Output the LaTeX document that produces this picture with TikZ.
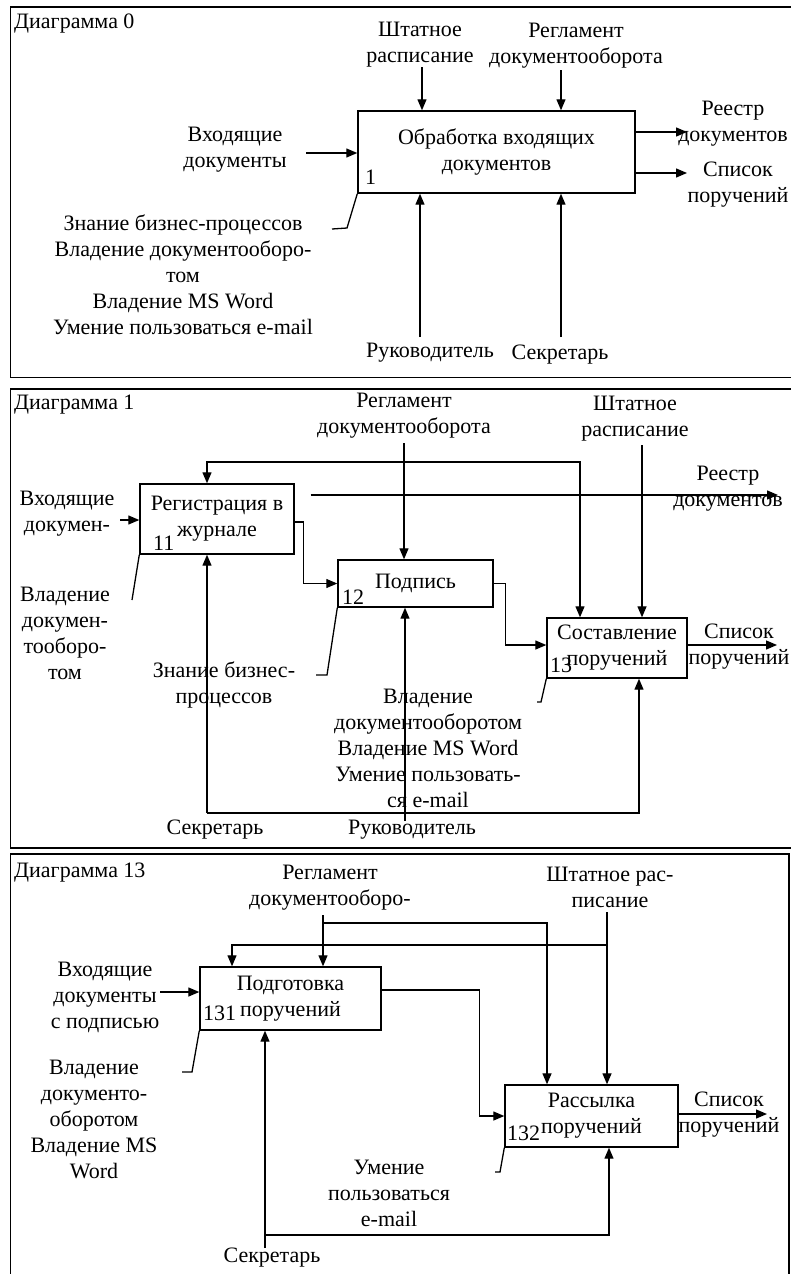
\documentclass[tikz,border=0pt]{standalone}
\usepackage{fontspec}
\setmainfont{Liberation Serif}
\usetikzlibrary{arrows.meta}
\begin{document}
\begin{tikzpicture}[x=1pt,y=-1pt,
  txt/.style={align=center, inner sep=0pt, font=\fontsize{22}{26}\selectfont},
  box/.style={draw, line width=1.4pt, inner sep=0pt, align=center, font=\fontsize{22}{26}\selectfont},
  num/.style={inner sep=0pt, anchor=west, font=\fontsize{22}{26}\selectfont},
  arr/.style={line width=1.3pt, -{Triangle[length=11pt,width=9pt]}},
  ln/.style={line width=1.3pt},
  frame/.style={line width=1.5pt}
]
\useasboundingbox (0,0) rectangle (790,1274);
% frames
\draw[frame] (791,7) -- (10.5,7) -- (10.5,377.5) -- (791,377.5);
\draw[frame] (791,389) -- (10.5,389) -- (10.5,848) -- (791,848);
\draw[frame] (10.5,1276) -- (10.5,854) -- (789,854) -- (789,1276);

% ================= Panel 1 =================
\node[txt, anchor=west] (t0) at (14,24) {Диаграмма 0};
\node[box, minimum width=277pt, minimum height=82pt] (A0) at (496.5,152) {Обработка входящих\\документов};
\node[num] (n1) at (365,177) {1};
\node[txt] (l1sht) at (420,45) {Штатное\\расписание};
\node[txt] (l1reg) at (576,46) {Регламент\\документооборота};
\node[txt] (l1in) at (235,150) {Входящие\\документы};
\node[txt] (l1call) at (183,275) {Знание бизнес-процессов\\Владение документооборо-\\том\\Владение MS Word\\Умение пользоваться e-mail};
\node[txt] (l1o1) at (733,123.5) {Реестр\\документов};
\node[txt] (l1o2) at (738,184.5) {Список\\поручений};
\node[txt] (l1ruk) at (430,353) {Руководитель};
\node[txt] (l1sec) at (560,355) {Секретарь};

\coordinate (p1in) at (306,153);
\coordinate (p1c1) at (422,67);
\coordinate (p1c2) at (561,70);
\coordinate (p1o1) at (687,132);
\coordinate (p1o2) at (687,173);
\coordinate (p1m1) at (420,337);
\coordinate (p1m2) at (561,337);
\coordinate (p1call) at (332,229);
\draw[arr] (p1in) -- (p1in -| A0.west);
\draw[arr] (p1c1) -- (p1c1 |- A0.north);
\draw[arr] (p1c2) -- (p1c2 |- A0.north);
\draw[arr] (A0.east |- p1o1) -- (p1o1);
\draw[arr] (A0.east |- p1o2) -- (p1o2);
\draw[arr] (p1m1) -- (p1m1 |- A0.south);
\draw[arr] (p1m2) -- (p1m2 |- A0.south);
\draw[ln] (A0.south west) -- (347,228) -- (p1call);

% ================= Panel 2 =================
\node[txt, anchor=west] (t1) at (14,405) {Диаграмма 1};
\node[box, minimum width=154pt, minimum height=70pt] (B11) at (217,519) {Регистрация в\\журнале};
\node[box, minimum width=155pt, minimum height=47pt] (B12) at (415.5,583.5) {Подпись};
\node[box, minimum width=140pt, minimum height=60pt] (B13) at (617,648) {Составление\\поручений};
\node[num] (n11) at (153,543) {11};
\node[num] (n12) at (342,597) {12};
\node[num] (n13) at (550,665) {13};
\node[txt] (l2reg) at (404,415.5) {Регламент\\документооборота};
\node[txt] (l2sht) at (635,419) {Штатное\\расписание};
\node[txt] (l2o1) at (728,488.5) {Реестр\\документов};
\node[txt] (l2in) at (67,514) {Входящие\\докумен-};
\node[txt] (l2c11) at (65,633) {Владение\\докумен-\\тооборо-\\том};
\node[txt] (l2c12) at (224,684.5) {Знание бизнес-\\процессов};
\node[txt] (l2c13) at (428,748.5) {Владение\\документооборотом\\Владение MS Word\\Умение пользовать-\\ся e-mail};
\node[txt] (l2o2) at (739,646.5) {Список\\поручений};
\node[txt] (l2sec) at (215,830) {Секретарь};
\node[txt] (l2ruk) at (412,830) {Руководитель};

\coordinate (p2reg) at (404,443);
\coordinate (p2j1) at (404,462);
\coordinate (p2sht) at (642,445);
\coordinate (p2o1) at (778,495);
\coordinate (p2in) at (120,520);
\coordinate (p2o2) at (777,645);
\coordinate (p2sec) at (207,813);
\coordinate (p2ruk) at (405,821);
\coordinate (p2call1) at (132,600);
\coordinate (p2call2) at (316,675);
\coordinate (p2call3) at (537,702);
\draw[arr] (p2reg) -- (p2reg |- B12.north);
\draw[arr] (p2j1) -| ([xshift=-10pt]B11.north);
\draw[arr] (p2j1) -| ([xshift=-37pt]B13.north);
\draw[arr] (p2sht) -- (p2sht |- B13.north);
\draw[arr, shorten <=16pt] (B11.east |- p2o1) -- (p2o1);
\draw[arr] (p2in) -- (p2in -| B11.west);
\draw[arr] ([yshift=-3pt]B11.east) -- ++(9,0) |- (B12.west);
\draw[arr] (B12.east) -- ++(12,0) |- ([yshift=3pt]B13.west);
\draw[arr] (B13.east |- p2o2) -- (p2o2);
\draw[arr] (p2sec) -- (p2sec |- B11.south);
\draw[arr] (p2sec) -| ([xshift=22pt]B13.south);
\draw[arr] (p2ruk) -- (p2ruk |- B12.south);
\draw[ln] (B11.south west) -- (p2call1);
\draw[ln] (B12.south west) -- (327,675) -- (p2call2);
\draw[ln] (B13.south west) -- (541,702) -- (p2call3);

% ================= Panel 3 =================
\node[txt, anchor=west] (t13) at (14,873) {Диаграмма 13};
\node[box, minimum width=181pt, minimum height=63pt] (C131) at (290.5,998.5) {Подготовка\\поручений};
\node[box, minimum width=173pt, minimum height=62pt] (C132) at (591.5,1116) {Рассылка\\поручений};
\node[num] (n131) at (203,1013) {131};
\node[num] (n132) at (507,1133) {132};
\node[txt] (l3reg) at (330,887.5) {Регламент\\документооборо-};
\node[txt] (l3sht) at (610,887.5) {Штатное рас-\\писание};
\node[txt] (l3in) at (105,997.5) {Входящие\\документы\\с подписью};
\node[txt] (l3c131) at (94,1119.5) {Владение\\документо-\\оборотом\\Владение MS\\Word};
\node[txt] (l3c132) at (389,1193) {Умение\\пользоваться\\e-mail};
\node[txt] (l3o) at (729,1114.5) {Список\\поручений};
\node[txt] (l3sec) at (272,1258) {Секретарь};

\coordinate (p3reg) at (323,915);
\coordinate (p3j1) at (323,923);
\coordinate (p3sht) at (607,912);
\coordinate (p3j2) at (607,945);
\coordinate (p3in) at (160,992);
\coordinate (p3o) at (767,1114);
\coordinate (p3sec) at (265,1248);
\coordinate (p3j3) at (265,1235);
\coordinate (p3call1) at (182,1072);
\coordinate (p3call2) at (495,1172);
\draw[arr] (p3reg) -- (p3reg |- C131.north);
\draw[arr] (p3j1) -| ([xshift=-44.5pt]C132.north);
\draw[arr] (p3sht) -- (p3sht |- C132.north);
\draw[arr] (p3j2) -| ([xshift=-58.5pt]C131.north);
\draw[arr] (p3in) -- (p3in -| C131.west);
\draw[arr] ([yshift=8.5pt]C131.east) -- ++(98,0) |- (C132.west);
\draw[arr] (C132.east |- p3o) -- (p3o);
\draw[arr] (p3sec) -- (p3sec |- C131.south);
\draw[arr] (p3j3) -| ([xshift=17.5pt]C132.south);
\draw[ln] (C131.south west) -- (192,1072) -- (p3call1);
\draw[ln] (C132.south west) -- (500,1172) -- (p3call2);
\end{tikzpicture}
\end{document}
